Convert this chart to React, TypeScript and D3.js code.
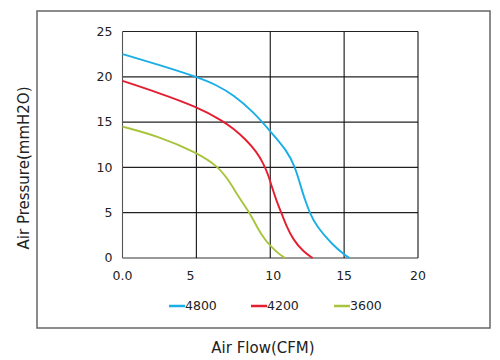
import React from "react";
import * as d3 from "d3";

const xTicks = [0, 5, 10, 15, 20];
const xTickLabels = ["0.0", "5", "10", "15", "20"];
const yTicks = [0, 5, 10, 15, 20, 25];

const series4800X = [0, 2.5, 5, 6.37, 7.5, 8.85, 10.1, 11.11, 11.68, 12.01, 12.35, 12.69, 13.14, 14.25, 15, 15.35];
const series4800Y = [22.5, 21.3, 20, 19.1, 18.0, 16.15, 13.8, 11.9, 10.06, 8.2, 6.4, 4.93, 3.46, 1.4, 0.4, 0];
const series4200X = [0, 2.5, 5, 6.71, 7.5, 8.4, 9.08, 9.53, 9.87, 10.1, 10.44, 10.77, 11.11, 11.56, 12.24, 12.87];
const series4200Y = [19.55, 18.2, 16.7, 15.2, 14.3, 13.0, 11.7, 10.45, 9.16, 7.9, 6.2, 4.93, 3.46, 2.0, 0.7, 0];
const series3600X = [0, 2.5, 5, 6.5, 7.3, 7.95, 8.63, 9.1, 9.64, 10.1, 10.5, 11.0];
const series3600Y = [14.5, 13.4, 11.65, 10.1, 8.3, 6.5, 4.95, 3.4, 2.0, 1.2, 0.55, 0];

const seriesNames = ["4800", "4200", "3600"];
const seriesColors = ["#1aaee6", "#e41e30", "#a8c43c"];

export default function App() {
  const x = d3.scaleLinear().domain([0, 20]).range([122.5, 418]);
  const y = d3.scaleLinear().domain([0, 25]).range([258, 31.5]);
  const line = d3
    .line<[number, number]>()
    .x((d) => x(d[0]))
    .y((d) => y(d[1]))
    .curve(d3.curveBasis);

  const all = [
    series4800X.map((v, i) => [v, series4800Y[i]] as [number, number]),
    series4200X.map((v, i) => [v, series4200Y[i]] as [number, number]),
    series3600X.map((v, i) => [v, series3600Y[i]] as [number, number]),
  ];

  const legendX = [169, 251, 334];
  const font = "'DejaVu Sans', 'Liberation Sans', Arial, sans-serif";

  return (
    <svg
      width={500}
      height={360}
      style={{ position: "absolute", left: 0, top: 0, background: "#fff" }}
      fontFamily={font}
    >
      <rect x={37} y={11} width={453} height={317} fill="none" stroke="#666" strokeWidth={1.5} />
      {/* grid */}
      {yTicks.map((t) => (
        <line key={"h" + t} x1={x(0)} x2={x(20)} y1={y(t)} y2={y(t)}
          stroke={t === 0 ? "#777" : "#222"} strokeWidth={t === 0 ? 1.6 : 1.2} />
      ))}
      {xTicks.map((t) => (
        <line key={"v" + t} x1={x(t)} x2={x(t)} y1={y(25)} y2={y(0)}
          stroke={t === 0 ? "#555" : "#111"} strokeWidth={1.1} />
      ))}
      {/* curves */}
      {all.map((pts, i) => (
        <path key={"s" + i} d={line(pts) || ""} fill="none" stroke={seriesColors[i]} strokeWidth={1.9} />
      ))}
      {/* y tick labels */}
      {yTicks.map((t) => (
        <text key={"yl" + t} x={112.5} y={y(t)} dy="0.35em" textAnchor="end" fontSize={12.5} fill="#222">
          {t}
        </text>
      ))}
      {xTicks.map((t, i) => (
        <text key={"xl" + t} x={x(t) + (i === 1 ? -6 : i === 2 ? 3 : 0)} y={276} dy="0.35em" textAnchor="middle" fontSize={12.5} fill="#222">
          {xTickLabels[i]}
        </text>
      ))}
      {/* legend */}
      {seriesNames.map((n, i) => (
        <g key={"lg" + n}>
          <line x1={legendX[i]} x2={legendX[i] + 16} y1={306} y2={306} stroke={seriesColors[i]} strokeWidth={2.5} />
          <text x={legendX[i] + 16} y={306} dy="0.35em" fontSize={12.5} fill="#222">{n}</text>
        </g>
      ))}
      {/* axis titles */}
      <text x={263} y={348} dy="0.35em" textAnchor="middle" fontSize={15} fill="#222">Air Flow(CFM)</text>
      <text transform={`translate(24,168) rotate(-90)`} textAnchor="middle" dy="0.35em" fontSize={15} fill="#222">
        Air Pressure(mmH2O)
      </text>
    </svg>
  );
}
